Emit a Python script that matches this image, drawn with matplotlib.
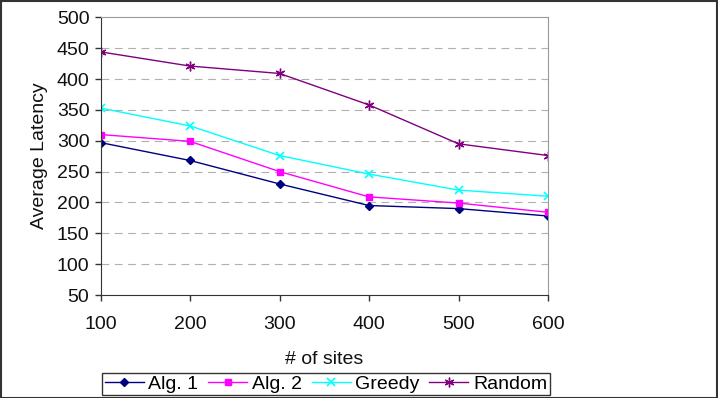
import matplotlib
matplotlib.use("Agg")
import matplotlib.pyplot as plt

plt.rcParams['font.family'] = ['Liberation Sans', 'DejaVu Sans']

sites = [100, 200, 300, 400, 500, 600]
alg1 = [297, 268, 230, 195, 190, 178]
alg2 = [310, 299, 250, 209, 199, 184]
greedy = [353, 324, 276, 246, 220, 210]
rand = [444, 421, 409, 358, 295, 276]

fig = plt.figure(figsize=(7.18, 3.98), dpi=100)
ax = fig.add_axes([100.5/718, 1-295/398, 447.5/718, 277.7/398])

ax.plot(sites, alg1, color="#000080", marker="D", markersize=4.5, lw=1, label="Alg. 1")
ax.plot(sites, alg2, color="#FF00FF", marker="s", markersize=5, lw=1, label="Alg. 2")
ax.plot(sites, greedy, color="#00FFFF", marker="x", markersize=6, mew=1.2, lw=1, label="Greedy")
ax.plot(sites, rand, color="#800080", marker=(6, 2, 0), markersize=7, mew=1, lw=1, label="Random")

ax.set_xlim(100, 600)
ax.set_ylim(50, 500)
ax.set_xticks(sites)
ax.set_yticks(range(50, 501, 50))
for y in range(100, 500, 50):
    ax.axhline(y, color="#b0b0b0", lw=0.8, ls=(0, (7, 5)), zorder=0)

ax.spines['top'].set_color("#999999")
ax.spines['right'].set_color("#999999")
ax.spines['left'].set_color("#333333")
ax.spines['bottom'].set_color("#333333")
ax.tick_params(labelsize=14, colors="#333333", length=4, width=1, direction="out")
ax.tick_params(axis='x', pad=11)
ax.tick_params(axis='y', pad=4)
for t in ax.get_xticklabels() + ax.get_yticklabels():
    t.set_color("#111111")

ax.set_xlabel("# of sites", fontsize=14, labelpad=13, color="#111111")
ax.set_ylabel("Average Latency", fontsize=14, labelpad=6, color="#111111")

leg = fig.legend(loc="center", bbox_to_anchor=(326/718, 1-384/398), ncol=4,
                 fontsize=14, frameon=True, fancybox=False, edgecolor="black",
                 handlelength=2.0, columnspacing=0.5, handletextpad=0.25,
                 borderpad=0.12)
leg.get_frame().set_linewidth(1)

fig.patches.append(plt.Rectangle((0.001, 0.001), 0.998, 0.997, transform=fig.transFigure,
                                 fill=False, edgecolor="#333333", lw=1.5))

fig.savefig("out.png", dpi=100)
